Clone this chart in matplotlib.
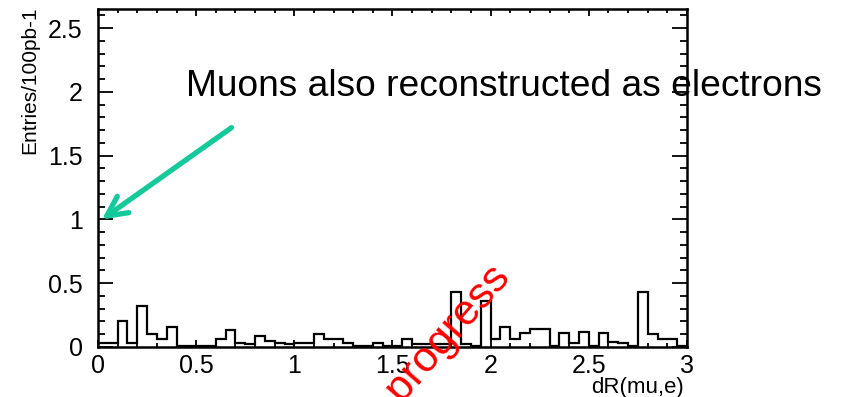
import numpy as np
import matplotlib.pyplot as plt
from matplotlib.ticker import MultipleLocator

plt.rcParams['font.family'] = ['Liberation Sans', 'DejaVu Sans']

# dR(mu,e) histogram, 60 bins of 0.05 between 0 and 3
bin_lo = 0.0
bin_hi = 3.0
nbins = 60
entries = [0.03, 0.03, 0.20, 0.03, 0.32, 0.10, 0.06, 0.16, 0.01, 0.01,
           0.01, 0.01, 0.06, 0.13, 0.03, 0.02, 0.09, 0.05, 0.03, 0.02,
           0.03, 0.03, 0.10, 0.06, 0.06, 0.03, 0.01, 0.01, 0.03, 0.01,
           0.01, 0.06, 0.02, 0.02, 0.02, 0.02, 0.43, 0.02, 0.01, 0.36,
           0.06, 0.16, 0.06, 0.11, 0.14, 0.14, 0.01, 0.11, 0.03, 0.12,
           0.01, 0.11, 0.04, 0.03, 0.01, 0.43, 0.10, 0.06, 0.06, 0.01]
xticks = [0, 0.5, 1, 1.5, 2, 2.5, 3]
xticklabels = ['0', '0.5', '1', '1.5', '2', '2.5', '3']
yticks = [0, 0.5, 1, 1.5, 2, 2.5]
yticklabels = ['0', '0.5', '1', '1.5', '2', '2.5']
arrow_tip = (0.02, 1.0)
arrow_tail = (0.68, 1.72)

edges = np.linspace(bin_lo, bin_hi, nbins + 1)

W, H = 843, 397
fig = plt.figure(figsize=(W / 100, H / 100), dpi=100)
ax = fig.add_axes([98 / W, 1 - 347 / H, (687 - 98) / W, (347 - 9) / H])

ax.stairs(entries, edges, color='black', lw=1.6)

ax.set_xlim(0, 3)
ax.set_ylim(0, 2.65)
ax.set_xticks(xticks)
ax.set_xticklabels(xticklabels)
ax.set_yticks(yticks)
ax.set_yticklabels(yticklabels)
ax.xaxis.set_minor_locator(MultipleLocator(0.1))
ax.yaxis.set_minor_locator(MultipleLocator(0.1))
ax.tick_params(axis='both', which='both', direction='in', top=True, right=True,
               width=1.3, labelsize=18, colors='black')
ax.tick_params(axis='y', which='major', length=11, pad=11)
ax.tick_params(axis='y', which='minor', length=5)
ax.tick_params(axis='x', which='major', length=5, pad=5)
ax.tick_params(axis='x', which='minor', length=3)
for s in ax.spines.values():
    s.set_linewidth(1.8)

fig.text(30 / W, 1 - 6 / H, 'Entries/100pb-1', rotation=90, ha='center', va='top',
         fontsize=15)
fig.text(684 / W, 1 - 377 / H, 'dR(mu,e)', ha='right', va='top', fontsize=16)

fig.text(186 / W, 1 - 96 / H, 'Muons also reconstructed as electrons',
         fontsize=26.7, va='baseline')

ax.annotate('', xy=arrow_tip, xytext=arrow_tail, annotation_clip=False,
            arrowprops=dict(arrowstyle='->', color='#14c99a', lw=3.8,
                            mutation_scale=36, shrinkA=0, shrinkB=0))

fig.text(512 / W, 1 - 279 / H, 'Work in progress', rotation=49,
         rotation_mode='anchor', ha='right', va='baseline', color='red',
         fontsize=31)

fig.savefig('out.png', dpi=100)
